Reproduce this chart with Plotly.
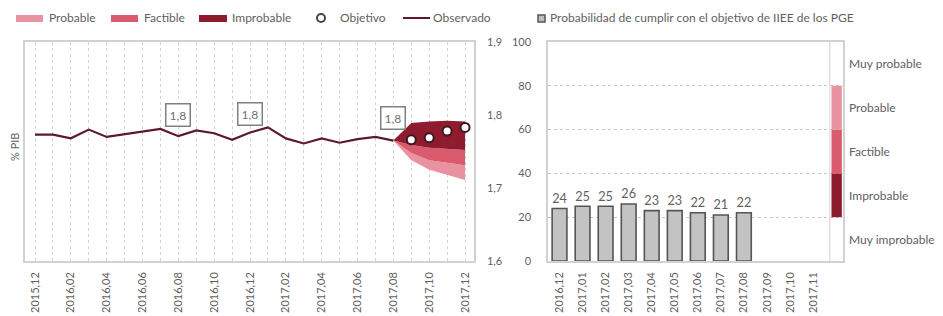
import plotly.graph_objects as go

# ---------------- data ----------------
months = ["2015,12", "2016,01", "2016,02", "2016,03", "2016,04", "2016,05", "2016,06",
          "2016,07", "2016,08", "2016,09", "2016,10", "2016,11", "2016,12", "2017,01",
          "2017,02", "2017,03", "2017,04", "2017,05", "2017,06", "2017,07", "2017,08",
          "2017,09", "2017,10", "2017,11", "2017,12"]
month_ticklabels = [m if i % 2 == 0 else "" for i, m in enumerate(months)]

observed = [1.773, 1.773, 1.768, 1.780, 1.770, 1.774, 1.777, 1.781, 1.771, 1.779,
            1.775, 1.766, 1.776, 1.783, 1.768, 1.761, 1.768, 1.762, 1.767, 1.770, 1.765]

fan_months = ["2017,08", "2017,09", "2017,10", "2017,11", "2017,12"]
fan_lower = [1.765, 1.738, 1.725, 1.718, 1.711]
fan_probable_top = [1.765, 1.748, 1.738, 1.735, 1.731]
fan_factible_top = [1.765, 1.759, 1.755, 1.753, 1.752]
fan_improbable_top = [1.765, 1.789, 1.791, 1.792, 1.791]

objective_months = ["2017,09", "2017,10", "2017,11", "2017,12"]
objective = [1.766, 1.769, 1.778, 1.783]

box_months = ["2016,08", "2016,12", "2017,08"]
box_values = [1.800, 1.802, 1.796]
box_labels = ["1,8", "1,8", "1,8"]

left_yticks = [1.6, 1.7, 1.8, 1.9]
left_yticklabels = ["1,6", "1,7", "1,8", "1,9"]

bar_months = ["2016,12", "2017,01", "2017,02", "2017,03", "2017,04", "2017,05",
              "2017,06", "2017,07", "2017,08", "2017,09", "2017,10", "2017,11"]
bar_values = [24, 25, 25, 26, 23, 23, 22, 21, 22, None, None, None]

band_names = ["Muy improbable", "Improbable", "Factible", "Probable", "Muy probable"]
band_edges = [0, 20, 40, 60, 80, 100]

# ---------------- styles ----------------
FONT = "Lato"
TXT = "#5f5f5f"
C_PROB = "#e8939f"
C_FACT = "#d95b6d"
C_IMPR = "#8e1b2e"
C_LINE = "#5e1a2a"
FRAME = "#d2d2d2"
GRID = "#d4d4d4"
W, H = 943, 316


def px(x):
    return x / W


def py(y):
    return 1 - y / H


fig = go.Figure()

# fan chart
fig.add_trace(go.Scatter(x=fan_months, y=fan_lower, mode="lines", line=dict(width=0),
                         showlegend=False, hoverinfo="skip", xaxis="x", yaxis="y"))
fig.add_trace(go.Scatter(x=fan_months, y=fan_probable_top, mode="lines", line=dict(width=0),
                         fill="tonexty", fillcolor=C_PROB, showlegend=False, xaxis="x", yaxis="y"))
fig.add_trace(go.Scatter(x=fan_months, y=fan_factible_top, mode="lines", line=dict(width=0),
                         fill="tonexty", fillcolor=C_FACT, showlegend=False, xaxis="x", yaxis="y"))
fig.add_trace(go.Scatter(x=fan_months, y=fan_improbable_top, mode="lines", line=dict(width=0),
                         fill="tonexty", fillcolor=C_IMPR, showlegend=False, xaxis="x", yaxis="y"))

# observed line
fig.add_trace(go.Scatter(x=months[:len(observed)], y=observed, mode="lines",
                         line=dict(color=C_LINE, width=2.2), showlegend=False,
                         xaxis="x", yaxis="y"))

# objective points
fig.add_trace(go.Scatter(x=objective_months, y=objective, mode="markers",
                         marker=dict(size=9, color="white", line=dict(color="#3d1820", width=2)),
                         showlegend=False, xaxis="x", yaxis="y", cliponaxis=False))

# bars
fig.add_trace(go.Bar(x=bar_months, y=bar_values, width=0.64,
                     marker=dict(color="#c3c3c3", line=dict(color="#555555", width=1.6)),
                     text=[str(v) if v is not None else "" for v in bar_values],
                     textposition="outside", textfont=dict(family=FONT, size=14, color=TXT),
                     cliponaxis=False, showlegend=False, xaxis="x2", yaxis="y2"))

shapes = []
annotations = []

# band column on the right panel
shapes.append(dict(type="line", xref="x2", yref="y2", x0=11.73, x1=11.73,
                   y0=band_edges[0], y1=band_edges[-1], line=dict(color=FRAME, width=1)))
band_colors = [None, C_IMPR, C_FACT, C_PROB, None]
for i, name in enumerate(band_names):
    if band_colors[i]:
        shapes.append(dict(type="rect", xref="x2", yref="y2", x0=11.8, x1=12.25,
                           y0=band_edges[i], y1=band_edges[i + 1],
                           fillcolor=band_colors[i], line=dict(width=0), layer="above"))
    annotations.append(dict(xref="paper", yref="y2", x=px(847),
                            y=(band_edges[i] + band_edges[i + 1]) / 2,
                            text=name, showarrow=False, xanchor="left", yanchor="middle",
                            font=dict(family=FONT, size=12, color=TXT)))

# value boxes
for m, v, t in zip(box_months, box_values, box_labels):
    annotations.append(dict(xref="x", yref="y", x=m, y=v, text=t, showarrow=False,
                            font=dict(family=FONT, size=12, color="#707070"),
                            bgcolor="white", bordercolor="#808080", borderwidth=1.5,
                            borderpad=3))

# y title left
annotations.append(dict(xref="paper", yref="paper", x=px(14), y=py(147), text="% PIB",
                        textangle=-90, showarrow=False, xanchor="center", yanchor="middle",
                        font=dict(family=FONT, size=11, color=TXT)))

# legend (manual)
LY = 18
leg_rects = [(16, 43, C_PROB, 47, "Probable"),
             (111, 138, C_FACT, 142, "Factible"),
             (199, 227, C_IMPR, 230, "Improbable")]
for x0, x1, c, tx, t in leg_rects:
    shapes.append(dict(type="rect", xref="paper", yref="paper", x0=px(x0), x1=px(x1),
                       y0=py(22), y1=py(15), fillcolor=c, line=dict(width=0)))
    annotations.append(dict(xref="paper", yref="paper", x=px(tx), y=py(LY), text=t,
                            showarrow=False, xanchor="left", yanchor="middle",
                            font=dict(family=FONT, size=12, color=TXT)))
shapes.append(dict(type="circle", xref="paper", yref="paper", x0=px(317), x1=px(325),
                   y0=py(22), y1=py(14), fillcolor="white",
                   line=dict(color="#444444", width=2)))
annotations.append(dict(xref="paper", yref="paper", x=px(338), y=py(LY), text="Objetivo",
                        showarrow=False, xanchor="left", yanchor="middle",
                        font=dict(family=FONT, size=12, color=TXT)))
shapes.append(dict(type="line", xref="paper", yref="paper", x0=px(403), x1=px(430),
                   y0=py(LY), y1=py(LY), line=dict(color=C_LINE, width=2)))
annotations.append(dict(xref="paper", yref="paper", x=px(431), y=py(LY), text="Observado",
                        showarrow=False, xanchor="left", yanchor="middle",
                        font=dict(family=FONT, size=12, color=TXT)))
shapes.append(dict(type="rect", xref="paper", yref="paper", x0=px(538), x1=px(545),
                   y0=py(22), y1=py(15), fillcolor="#bdbdbd",
                   line=dict(color="#555555", width=1.5)))
annotations.append(dict(xref="paper", yref="paper", x=px(548), y=py(LY),
                        text="Probabilidad de cumplir con el objetivo de IIEE de los PGE",
                        showarrow=False, xanchor="left", yanchor="middle",
                        font=dict(family=FONT, size=12, color=TXT)))

YDOM = [py(261), py(42)]

fig.update_layout(
    width=W, height=H, autosize=False,
    margin=dict(l=0, r=0, t=0, b=0, pad=0, autoexpand=False),
    paper_bgcolor="white", plot_bgcolor="white",
    font=dict(family=FONT, size=11, color=TXT),
    showlegend=False,
    bargap=0.3,
    xaxis=dict(domain=[px(25), px(474)], type="category", categoryorder="array",
               categoryarray=months, range=[-0.56, 24.5], automargin=False,
               tickvals=months, ticktext=month_ticklabels, tickangle=-90,
               showgrid=True, gridcolor=GRID, griddash="dot", gridwidth=1,
               showline=True, linecolor=FRAME, linewidth=1.5, mirror=True,
               ticks="", ticklabelstandoff=5, tickfont=dict(size=11, color=TXT),
               zeroline=False, anchor="y"),
    yaxis=dict(domain=YDOM, range=[1.6, 1.9], side="right", anchor="x", automargin=False,
               tickvals=left_yticks, ticktext=left_yticklabels,
               showgrid=False, zeroline=False,
               showline=True, linecolor=FRAME, linewidth=1.5, mirror=True,
               ticks="", ticklabelstandoff=9, tickfont=dict(size=11, color=TXT)),
    xaxis2=dict(domain=[px(548), px(843)], type="category", categoryorder="array",
                categoryarray=bar_months, range=[-0.5, 12.3], anchor="y2", automargin=False,
                tickvals=bar_months, ticktext=bar_months, tickangle=-90,
                showgrid=False, showline=True, linecolor=FRAME, linewidth=1.5, mirror=True,
                ticks="", ticklabelstandoff=5, tickfont=dict(size=11, color=TXT)),
    yaxis2=dict(domain=YDOM, range=[0, 100], anchor="x2", side="left", automargin=False,
                tickvals=[0, 20, 40, 60, 80, 100],
                showgrid=True, gridcolor="#c8c8c8", griddash="dot", gridwidth=1,
                zeroline=False, showline=True, linecolor=FRAME, linewidth=1.5, mirror=True,
                ticks="", ticklabelstandoff=13, tickfont=dict(size=11, color=TXT)),
    shapes=shapes,
    annotations=annotations,
)

fig.write_html(
    "out.html",
    config={"displayModeBar": False},
    post_script="document.body.style.margin='0px';document.body.style.overflow='hidden';",
)
